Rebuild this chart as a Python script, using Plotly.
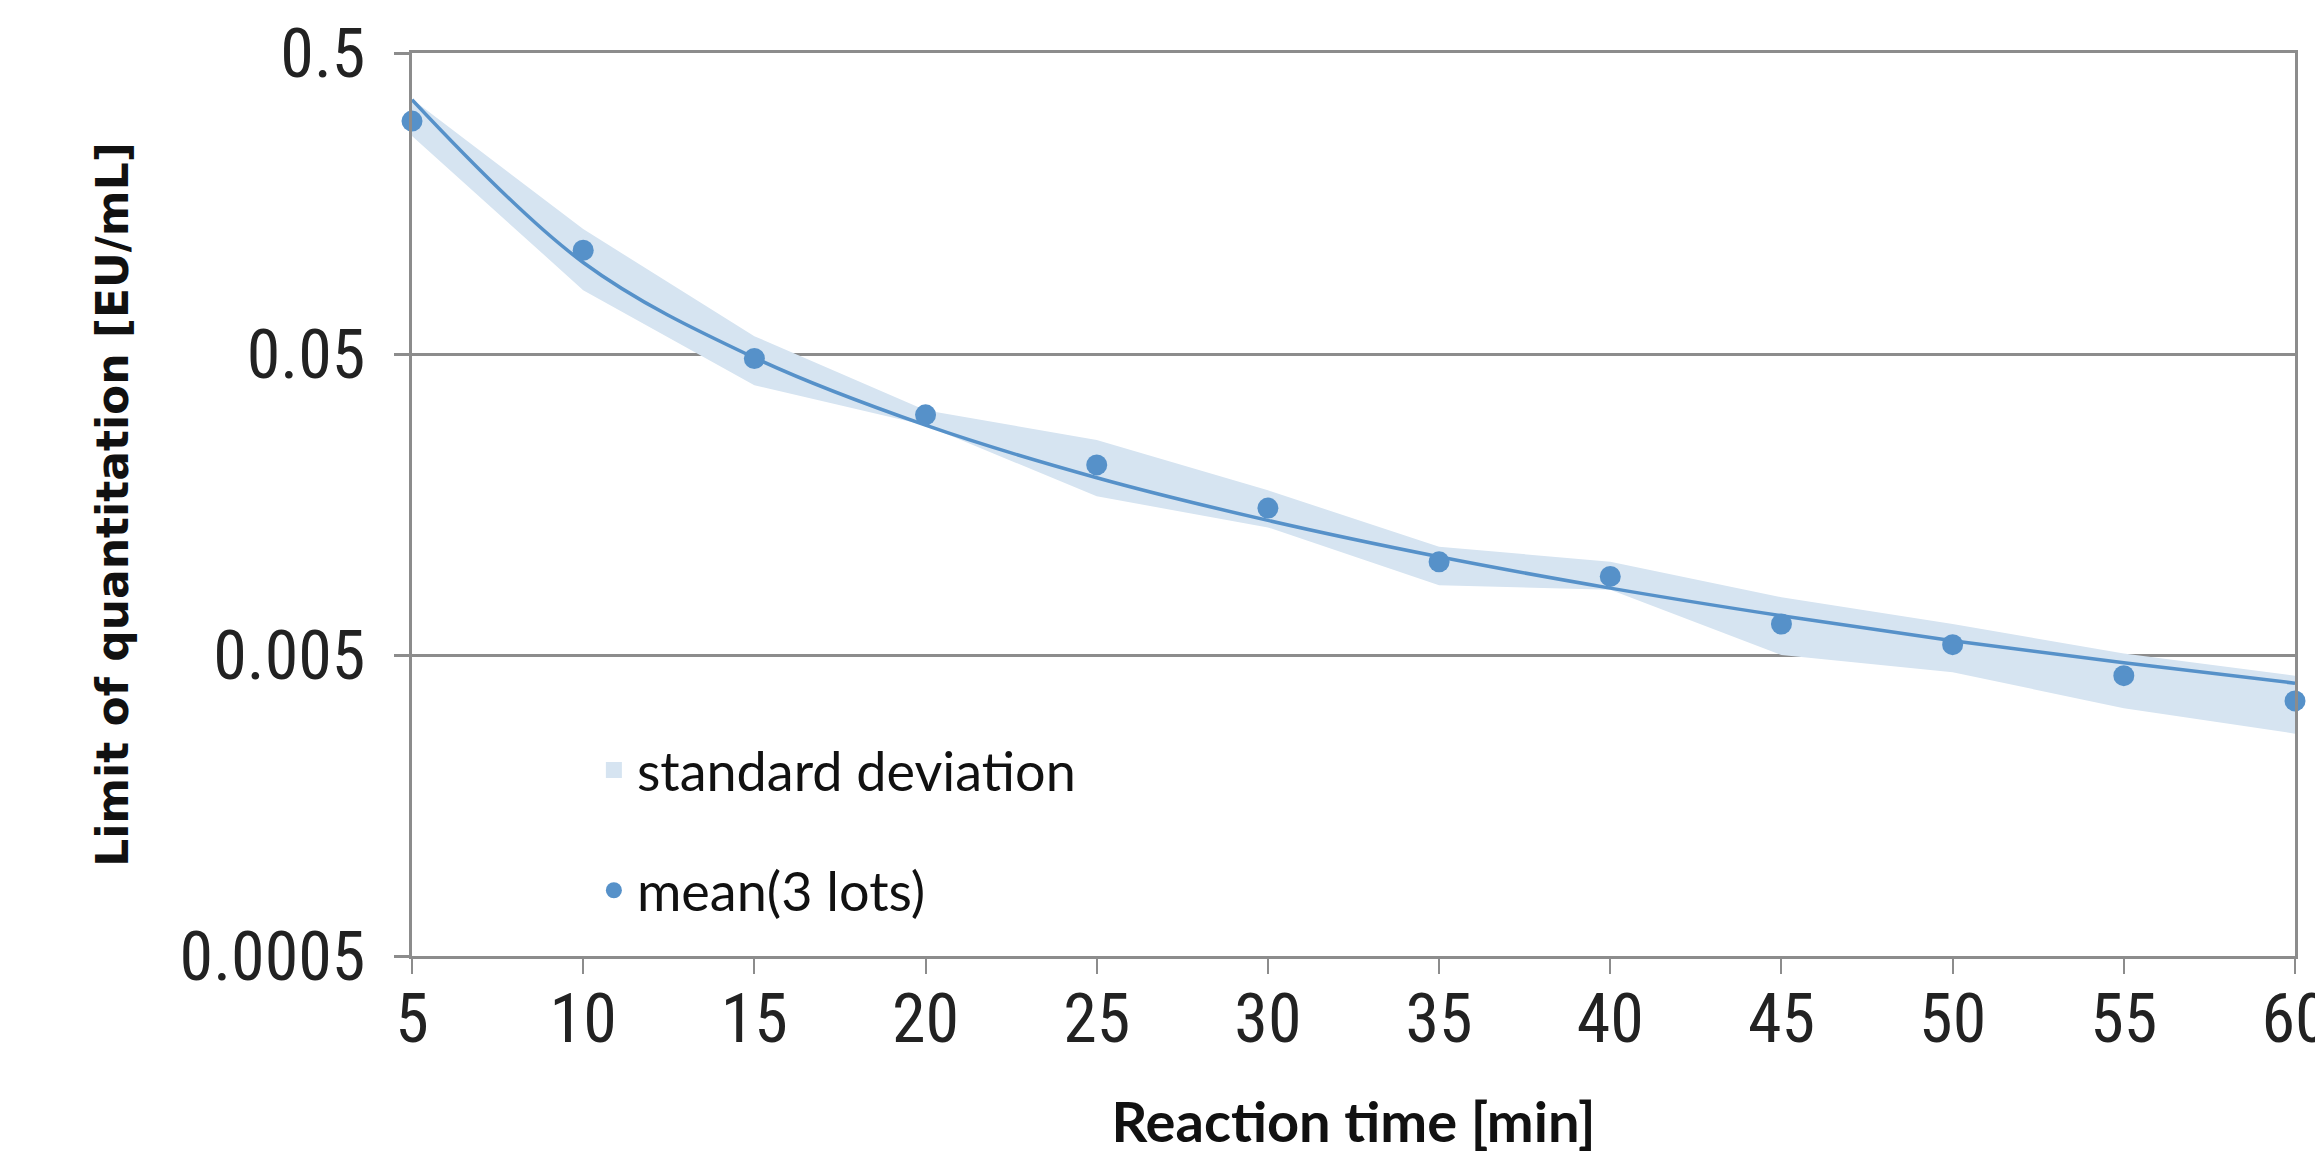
import math
import plotly.graph_objects as go

# Data
reaction_time = [5, 10, 15, 20, 25, 30, 35, 40, 45, 50, 55, 60]
mean_loq = [0.297, 0.1106, 0.0483, 0.0314, 0.0214, 0.01538, 0.0102, 0.00912,
            0.00634, 0.00541, 0.00427, 0.00352]
sd_upper = [0.352, 0.130, 0.0573, 0.0325, 0.0259, 0.01762, 0.01145, 0.0102,
            0.00778, 0.00634, 0.00506, 0.00427]
sd_lower = [0.265, 0.0815, 0.0394, 0.0290, 0.01683, 0.01327, 0.00853, 0.00824,
            0.0050, 0.00438, 0.00333, 0.00274]
trend_loq = [0.350, 0.1007, 0.0486, 0.0290, 0.0194, 0.0140, 0.0106, 0.00834,
             0.00675, 0.00558, 0.00471, 0.00403]

y_tickvals = [0.0005, 0.005, 0.05, 0.5]
y_ticktext = ["0.0005", "0.005", "0.05", "0.5"]
x_tickvals = [5, 10, 15, 20, 25, 30, 35, 40, 45, 50, 55, 60]

BLUE = "rgb(86,145,201)"
BAND = "rgb(214,228,241)"
GRID = "rgb(140,140,140)"
TICKFONT = "Liberation Sans Narrow, Roboto Condensed, Liberation Sans, Arial"
LEGFONT = "Lato, Open Sans, DejaVu Sans"

fig = go.Figure()

fig.add_trace(go.Scatter(
    x=reaction_time, y=sd_upper, mode="lines", line=dict(width=0, color=BAND),
    showlegend=False, hoverinfo="skip"))
fig.add_trace(go.Scatter(
    x=reaction_time, y=sd_lower, mode="lines", line=dict(width=0, color=BAND),
    fill="tonexty", fillcolor=BAND, name="standard deviation",
    showlegend=False, hoverinfo="skip"))
# legend-only entry for the band (square swatch)
fig.add_trace(go.Scatter(
    x=[None], y=[None], mode="markers",
    marker=dict(symbol="square", color=BAND, size=30),
    name="standard deviation", legendgroup="sd", showlegend=True))
fig.add_trace(go.Scatter(
    x=reaction_time, y=trend_loq, mode="lines",
    line=dict(color=BLUE, width=3.5, shape="spline"),
    showlegend=False, hoverinfo="skip"))
fig.add_trace(go.Scatter(
    x=reaction_time, y=mean_loq, mode="markers",
    marker=dict(color=BLUE, size=21), name="mean(3 lots)",
    legendgroup="mean", showlegend=True, cliponaxis=False))

fig.update_layout(
    width=2315, height=1146,
    margin=dict(l=404, r=28, t=45, b=198, autoexpand=False),
    plot_bgcolor="white", paper_bgcolor="white",
    font=dict(family=TICKFONT, color="#222222"),
    legend=dict(
        x=0.095, y=0.252, xanchor="left", yanchor="top",
        bgcolor="rgba(0,0,0,0)",
        font=dict(family=LEGFONT, size=54, color="#111111"),
        tracegroupgap=47, itemwidth=36,
    ),
    showlegend=True,
)

fig.update_xaxes(
    range=[5, 60], tickvals=x_tickvals,
    showgrid=False, showline=True, linecolor=GRID, linewidth=3, mirror=True,
    ticks="outside", ticklen=15, tickwidth=2, tickcolor=GRID,
    tickfont=dict(family=TICKFONT, size=68, color="#222222"),
    ticklabelstandoff=-14, ticklabeloverflow="allow",
    zeroline=False, automargin=False,
    title=dict(text="<b>Reaction time [min]</b>",
               font=dict(family=LEGFONT, size=56, color="#111111"),
               standoff=50),
)
fig.update_yaxes(
    type="log", range=[math.log10(0.0005), math.log10(0.5)],
    tickvals=y_tickvals, ticktext=y_ticktext,
    showgrid=True, gridcolor=GRID, gridwidth=3,
    showline=True, linecolor=GRID, linewidth=3, mirror=True,
    ticks="outside", ticklen=15, tickwidth=3, tickcolor=GRID,
    tickfont=dict(family=TICKFONT, size=68, color="#222222"),
    ticklabelstandoff=15,
    zeroline=False, automargin=False,
    title=dict(text="<b>Limit of quantitation [EU/mL]</b>",
               font=dict(family="DejaVu Sans", size=44, color="#111111"),
               standoff=38),
)

fig.write_html("out.html")
